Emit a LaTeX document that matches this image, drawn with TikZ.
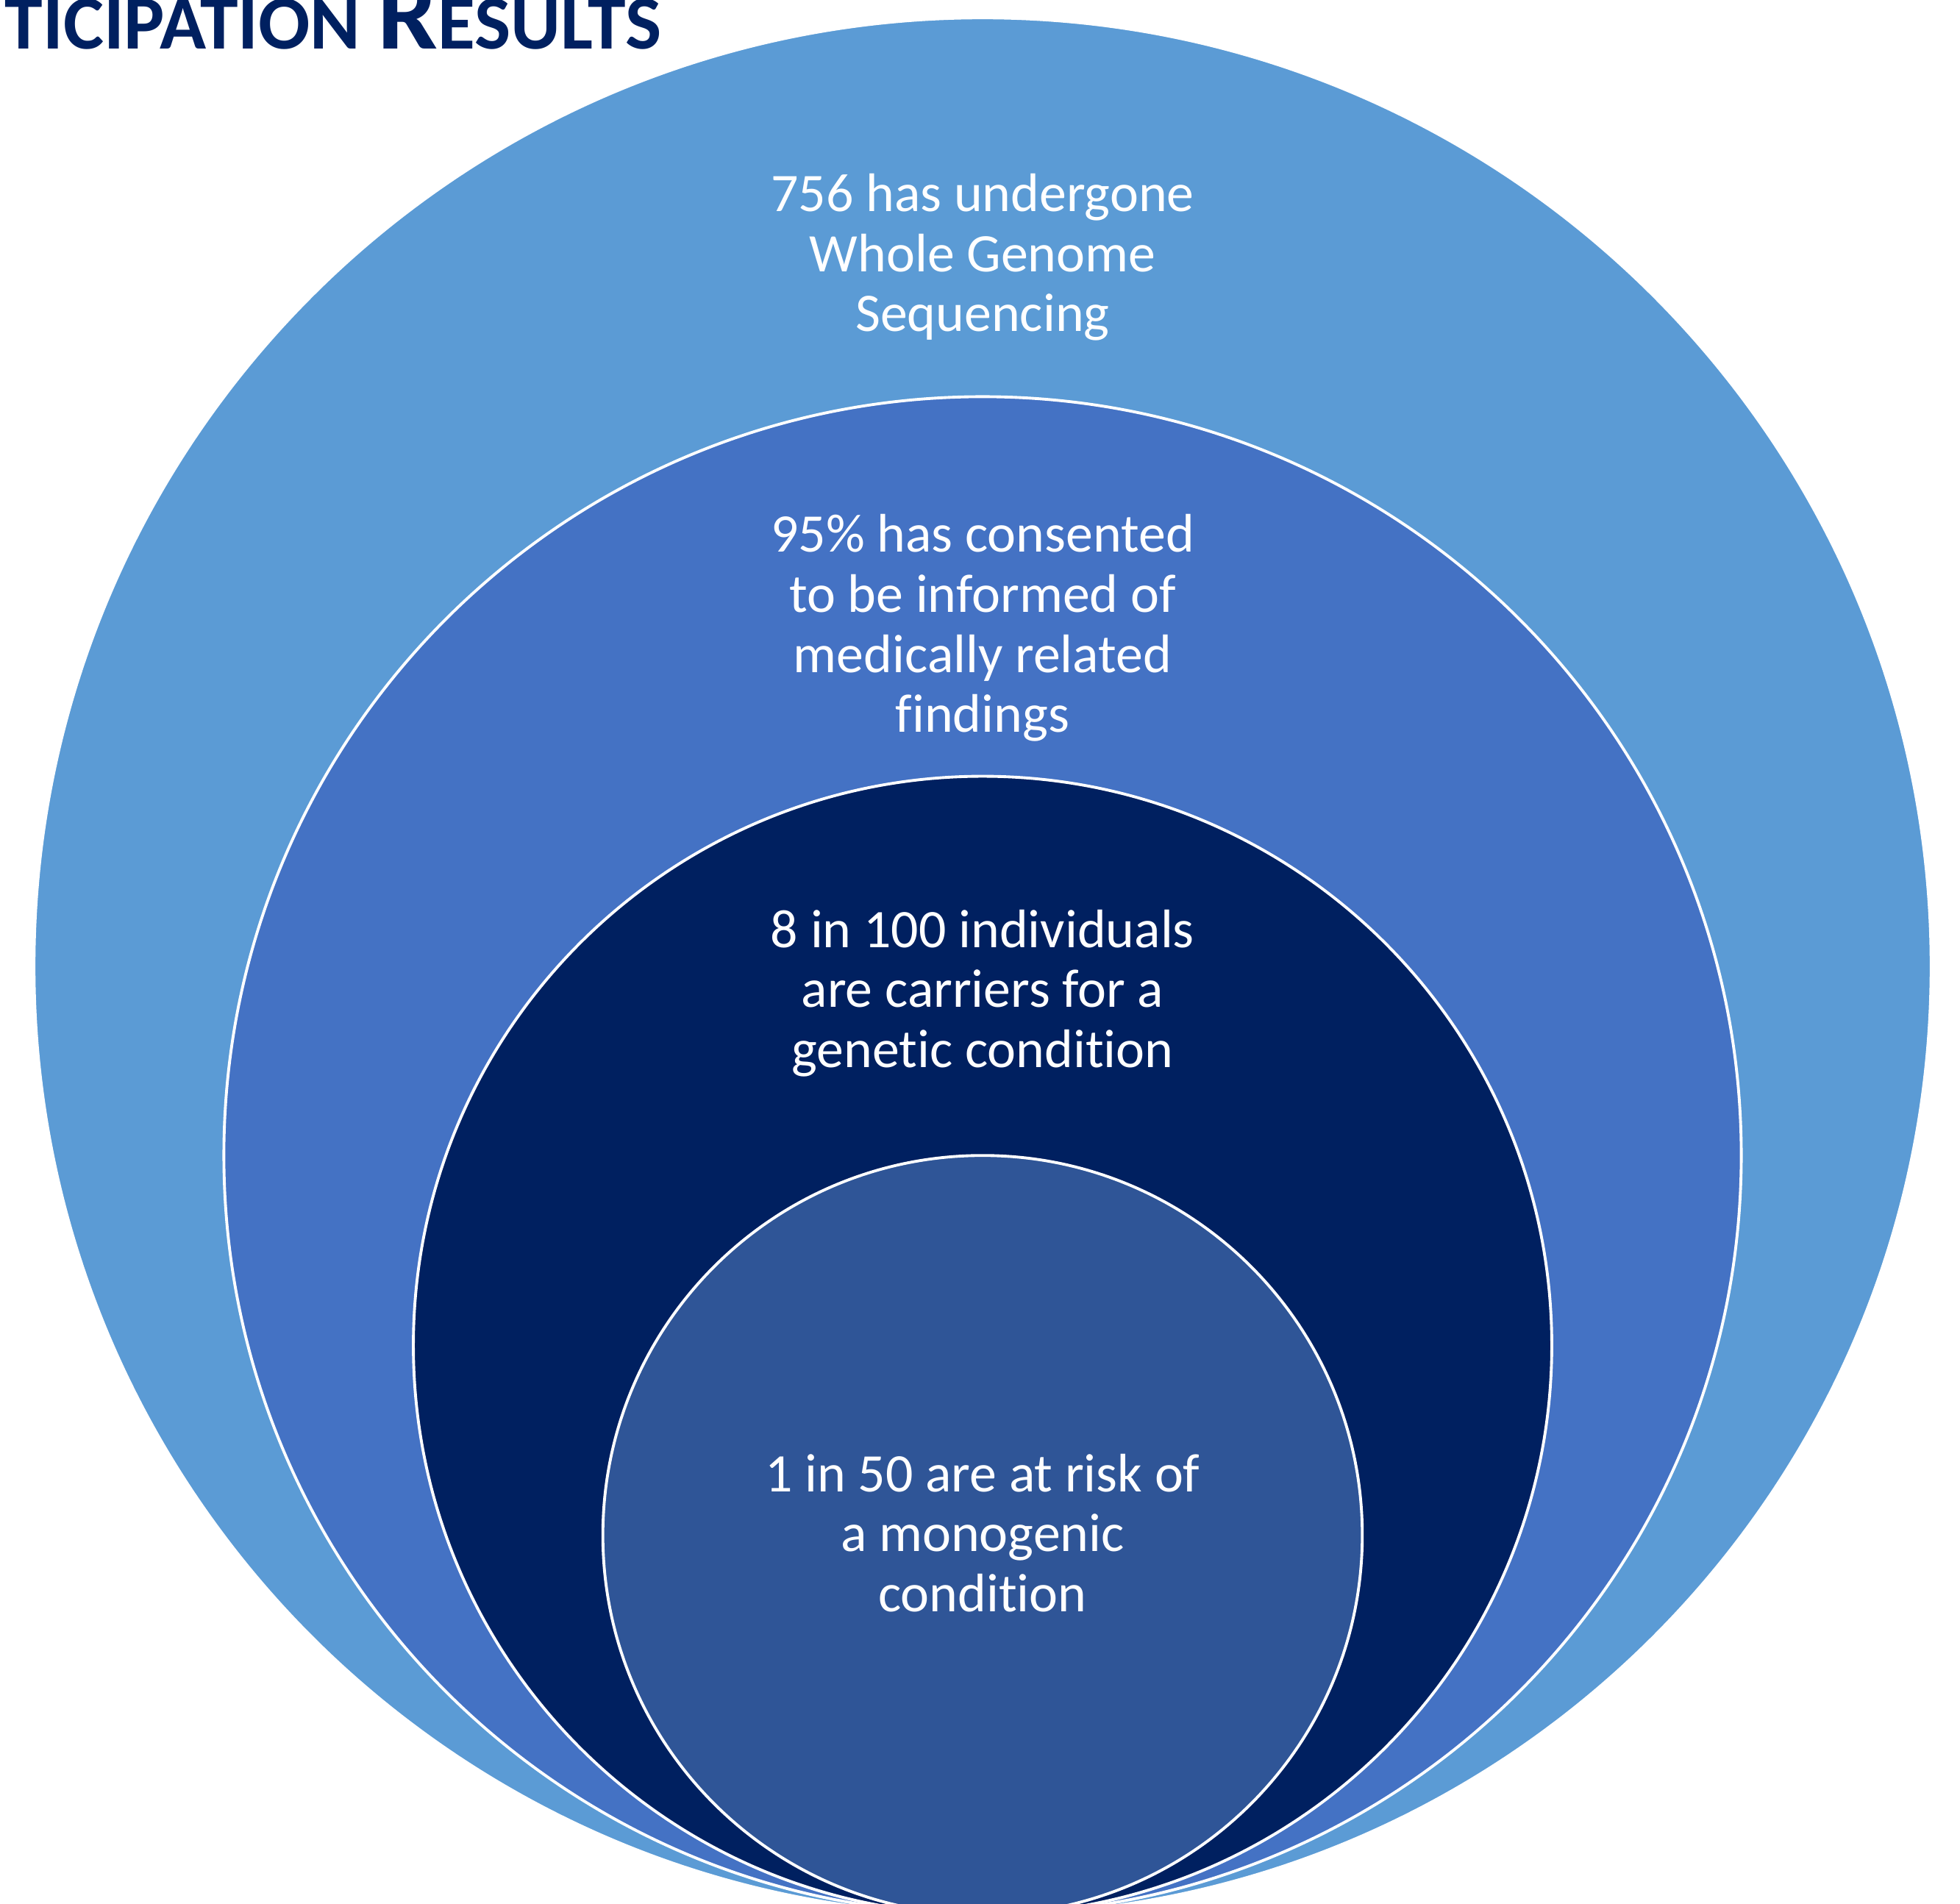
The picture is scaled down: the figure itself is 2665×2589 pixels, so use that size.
\documentclass[tikz,border=0pt]{standalone}
\usepackage{fontspec}
\setmainfont{Carlito}[Ligatures={NoCommon}]
\definecolor{ringA}{HTML}{5B9BD5}
\definecolor{ringB}{HTML}{4472C4}
\definecolor{ringC}{HTML}{002060}
\definecolor{ringD}{HTML}{2F5597}
\definecolor{titlecol}{HTML}{002060}
\begin{document}
\begin{tikzpicture}[x=0.01cm,y=-0.01cm,
  ring/.style={circle, draw=white, line width=1.1pt, inner sep=0pt},
  lbl/.style={text=white, align=center, font=\fontsize{21}{23.2}\selectfont, inner sep=0pt}]
\useasboundingbox (0,0) rectangle (2665,2589);
\begin{scope}
\clip (0,0) rectangle (2665,2589);
\node[ring, fill=ringA, minimum size=25.78cm] (ringone) at (1336,1314) {};
\node[ring, fill=ringB, minimum size=20.62cm] (ringtwo) at (1336,1571) {};
\node[ring, fill=ringC, minimum size=15.47cm] (ringthree) at (1336,1829.5) {};
\node[ring, fill=ringD, minimum size=10.32cm] (ringfour) at (1336,2087.5) {};
\end{scope}
\node[lbl] (labelone) at (1336,350) {756 has undergone\\Whole Genome\\Sequencing};
\node[lbl] (labeltwo) at (1336,854) {95\% has consented\\to be informed of\\medically related\\findings};
\node[lbl] (labelthree) at (1336,1350.5) {8 in 100 individuals\\are carriers for a\\genetic condition};
\node[lbl] (labelfour) at (1336,2084.5) {1 in 50 are at risk of\\a monogenic\\condition};
\node[anchor=base west, inner sep=0pt, text=titlecol, font=\bfseries] (title) at (6,66.7)
  {{\fontsize{29.6}{31}\selectfont TICIPATION }{\fontsize{41.4}{42}\selectfont R}{\fontsize{29.6}{31}\selectfont ESULTS}};
\end{tikzpicture}
\end{document}
